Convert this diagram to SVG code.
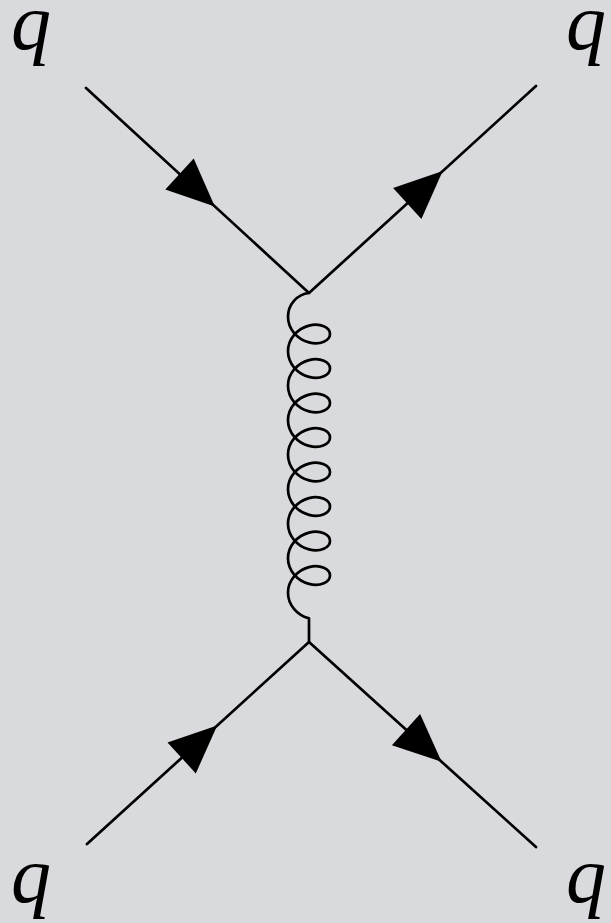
<svg xmlns="http://www.w3.org/2000/svg" width="611" height="923" viewBox="0 0 611 923">
<style>
.line{stroke:#000;stroke-width:2.7;fill:none;stroke-linecap:round;stroke-linejoin:round}
.arrow{fill:#000;stroke:none}
.lbl{font-family:"Liberation Serif","DejaVu Serif",serif;font-style:italic;font-size:80px;fill:#000}
</style>
<rect width="611" height="923" fill="#d9dade"/>
<g id="connectors">
<path class="line" d="M86 88 L309 293 L536 86"/>
<path class="line" d="M87 844 L309 642 L536 847"/>
<path id="gluon" class="line" d="M309 293 C297.45 294.14 288 304.38 288 316.75 C288 329.12 297.45 339.36 309 342.375 C320.55 345.4 330 340.33 330 334
C330 327.67 320.55 322.6 309 325.625 C297.45 328.64 288 338.88 288 351.25 C288 363.62 297.45 373.86 309 376.875 C320.55 379.9 330 374.83 330 368.5
C330 362.17 320.55 357.1 309 360.125 C297.45 363.14 288 373.38 288 385.75 C288 398.12 297.45 408.36 309 411.375 C320.55 414.4 330 409.33 330 403
C330 396.67 320.55 391.6 309 394.625 C297.45 397.64 288 407.88 288 420.25 C288 432.62 297.45 442.86 309 445.875 C320.55 448.9 330 443.83 330 437.5
C330 431.17 320.55 426.1 309 429.125 C297.45 432.14 288 442.38 288 454.75 C288 467.12 297.45 477.36 309 480.375 C320.55 483.4 330 478.33 330 472
C330 465.67 320.55 460.6 309 463.625 C297.45 466.64 288 476.88 288 489.25 C288 501.62 297.45 511.86 309 514.875 C320.55 517.9 330 512.83 330 506.5
C330 500.17 320.55 495.1 309 498.125 C297.45 501.14 288 511.38 288 523.75 C288 536.12 297.45 546.36 309 549.375 C320.55 552.4 330 547.33 330 541
C330 534.67 320.55 529.6 309 532.625 C297.45 535.64 288 545.88 288 558.25 C288 570.62 297.45 580.86 309 583.875 C320.55 586.9 330 581.83 330 575.5
C330 569.17 320.55 564.1 309 567.125 C297.45 570.14 288 580.38 288 592.75 C288 605.12 297.45 615.36 309 618.375 L309 642"/>
<polygon class="arrow" points="214.8,206.4 165.3,189.4 193.7,158.5"/>
<polygon class="arrow" points="442.7,171 421.4,218.9 393.1,187.9"/>
<polygon class="arrow" points="217.2,725.6 195.8,773.4 167.5,742.4"/>
<polygon class="arrow" points="441.6,761.8 391.9,745.2 420.1,714"/>
</g>
<g id="q-top-left"><text class="lbl" x="11" y="49">q</text></g>
<g id="q-top-right"><text class="lbl" x="566" y="49">q</text></g>
<g id="q-bottom-left"><text class="lbl" x="11" y="902">q</text></g>
<g id="q-bottom-right"><text class="lbl" x="566" y="902">q</text></g>
</svg>
